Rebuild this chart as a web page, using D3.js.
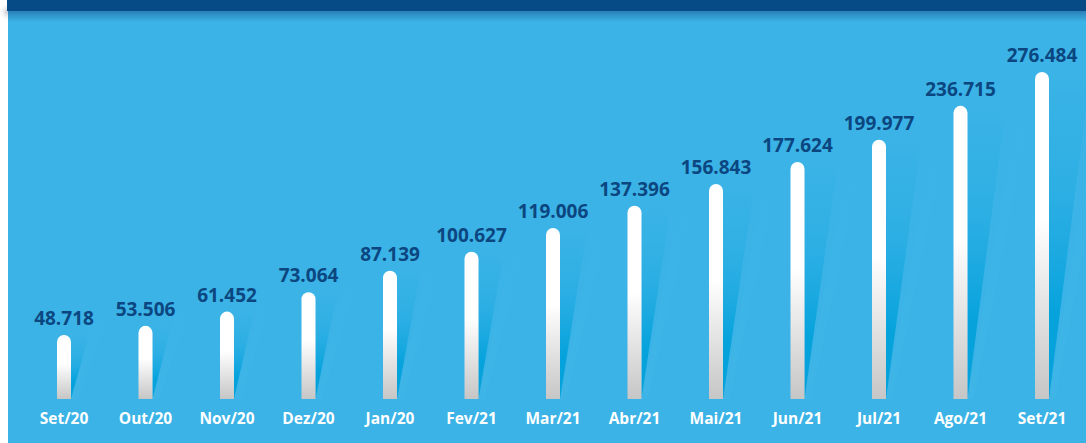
<!DOCTYPE html>
<html>
<head>
<meta charset="utf-8">
<script src="https://cdn.jsdelivr.net/npm/d3@7"></script>
<style>
  html, body { margin: 0; padding: 0; background: #ffffff; }
  svg { display: block; }
</style>
</head>
<body>
<svg id="chart" width="1086" height="443"></svg>
<script>
const categories = ["Set/20","Out/20","Nov/20","Dez/20","Jan/20","Fev/21","Mar/21","Abr/21","Mai/21","Jun/21","Jul/21","Ago/21","Set/21"];
const values = [48718, 53506, 61452, 73064, 87139, 100627, 119006, 137396, 156843, 177624, 199977, 236715, 276484];
const valueLabels = ["48.718","53.506","61.452","73.064","87.139","100.627","119.006","137.396","156.843","177.624","199.977","236.715","276.484"];

const W = 1086, H = 443;
const svg = d3.select("#chart");
const defs = svg.append("defs");

const hdrShadow = defs.append("linearGradient").attr("id","hdrShadow").attr("x1",0).attr("y1",0).attr("x2",0).attr("y2",1);
hdrShadow.append("stop").attr("offset","0%").attr("stop-color","#2a7fb8");
hdrShadow.append("stop").attr("offset","100%").attr("stop-color","#3BB3E6");

const leftShadow = defs.append("radialGradient").attr("id","leftShadow");
leftShadow.append("stop").attr("offset","0%").attr("stop-color","#c9c9d2");
leftShadow.append("stop").attr("offset","100%").attr("stop-color","#ffffff").attr("stop-opacity",0);

svg.append("rect").attr("x",0).attr("y",0).attr("width",W).attr("height",H).attr("fill","#ffffff");
svg.append("ellipse").attr("cx",7).attr("cy",12).attr("rx",8).attr("ry",10).attr("fill","url(#leftShadow)");
svg.append("rect").attr("x",8).attr("y",11).attr("width",W-8).attr("height",H-11).attr("fill","#3BB3E6");
svg.append("rect").attr("x",8).attr("y",11).attr("width",W-8).attr("height",11).attr("fill","url(#hdrShadow)");
svg.append("rect").attr("x",7).attr("y",0).attr("width",W-7).attr("height",11).attr("fill","#064A86");

const x = d3.scalePoint().domain(categories).range([64, 1042]);
const baseY = 399;
const y = d3.scalePow().exponent(0.5).domain([48718, 276484]).range([335, 72]);
const barW = 14;

const barGrad = defs.append("linearGradient").attr("id","barGrad").attr("x1",0).attr("y1",0).attr("x2",0).attr("y2",1);
barGrad.append("stop").attr("offset","0%").attr("stop-color","#ffffff");
barGrad.append("stop").attr("offset","45%").attr("stop-color","#ffffff");
barGrad.append("stop").attr("offset","100%").attr("stop-color","#c6c6c6");

const shGrad = defs.append("linearGradient").attr("id","shGrad").attr("x1",0).attr("y1",0).attr("x2",0).attr("y2",1);
shGrad.append("stop").attr("offset","0%").attr("stop-color","#14a8e0").attr("stop-opacity",0);
shGrad.append("stop").attr("offset","35%").attr("stop-color","#14a8e0").attr("stop-opacity",0.35);
shGrad.append("stop").attr("offset","75%").attr("stop-color","#05a2dc").attr("stop-opacity",1);
shGrad.append("stop").attr("offset","100%").attr("stop-color","#05a2dc").attr("stop-opacity",1);

const beamGrad = defs.append("linearGradient").attr("id","beamGrad").attr("x1",0).attr("y1",0).attr("x2",0).attr("y2",1);
beamGrad.append("stop").attr("offset","0%").attr("stop-color","#5fc4ee").attr("stop-opacity",0);
beamGrad.append("stop").attr("offset","100%").attr("stop-color","#5fc4ee").attr("stop-opacity",0.1);

const data = categories.map((c,i) => ({c, v: values[i], label: valueLabels[i]}));

svg.append("g").selectAll("path.beam").data(data).join("path")
  .attr("d", d => {
    const r = x(d.c) + barW/2, t = y(d.v) - 40;
    const off = 0.12 * (baseY - t) + 18;
    return `M${r},${baseY} L${r+off},${t} L${r+off+14},${t} L${r+6},${baseY} Z`;
  })
  .attr("fill","url(#beamGrad)");

svg.append("g").selectAll("path.sh").data(data).join("path")
  .attr("d", d => {
    const r = x(d.c) + barW/2, t = y(d.v);
    const off = 0.09 * (baseY - t) + 12;
    return `M${r},${baseY} L${r},${t} L${r+off},${t} Z`;
  })
  .attr("fill","url(#shGrad)");

svg.append("g").selectAll("path.bar").data(data).join("path")
  .attr("d", d => {
    const l = x(d.c) - barW/2, t = y(d.v), rr = barW/2;
    return `M${l},${baseY} L${l},${t+rr} A${rr},${rr} 0 0 1 ${l+barW},${t+rr} L${l+barW},${baseY} Z`;
  })
  .attr("fill","url(#barGrad)");

svg.append("g").selectAll("text.val").data(data).join("text")
  .attr("x", d => x(d.c))
  .attr("y", d => y(d.v) - 10)
  .attr("text-anchor","middle")
  .attr("font-family","'Open Sans', sans-serif")
  .attr("font-weight",700)
  .attr("font-size",19)
  .attr("fill","#0C4680")
  .text(d => d.label);

svg.append("g").selectAll("text.cat").data(data).join("text")
  .attr("x", d => x(d.c))
  .attr("y", 424)
  .attr("text-anchor","middle")
  .attr("font-family","'Open Sans', sans-serif")
  .attr("font-weight",700)
  .attr("font-size",15.5)
  .attr("fill","#ffffff")
  .text(d => d.c);
</script>
</body>
</html>
